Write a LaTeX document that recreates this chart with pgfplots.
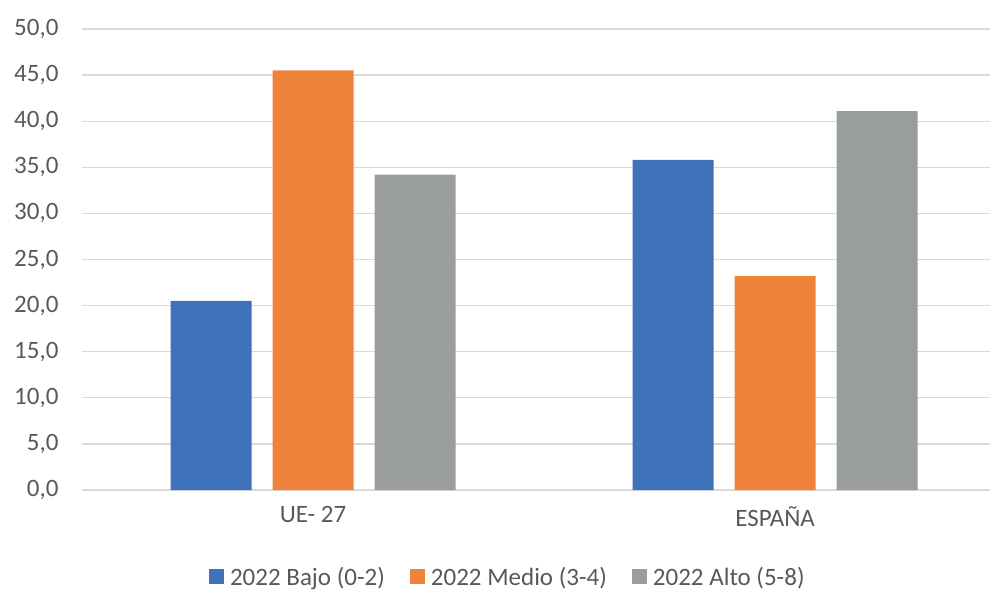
\documentclass[border=0pt]{standalone}
\usepackage{fontspec}
\setmainfont{Carlito}
\usepackage{pgfplots}
\pgfplotsset{compat=1.18}
\definecolor{cblue}{HTML}{3F72B9}
\definecolor{corange}{HTML}{F0833A}
\definecolor{cgray}{HTML}{9A9D9D}
\definecolor{cgrid}{HTML}{D9D9D9}
\definecolor{ctext}{HTML}{595959}
\begin{document}
\begin{tikzpicture}[x=1pt,y=1pt]
\useasboundingbox (0,0) rectangle (990,592);
\begin{axis}[
  at={(82pt,102pt)}, anchor=south west,
  scale only axis, width=908pt, height=461pt,
  xmin=-0.5, xmax=1.465, ymin=0, ymax=50,
  ybar=21pt, bar width=81pt,
  xtick={0,1}, xticklabels={UE- 27, ESPAÑA},
  ytick={0,5,...,50},
  ymajorgrids, grid style={color=cgrid, line width=1.2pt},
  axis lines*=left,
  y axis line style={draw=none},
  x axis line style={color=cgrid, line width=1.2pt},
  major tick length=0pt,
  tick style={draw=none},
  font=\fontsize{25}{30}\selectfont,
  tick label style={color=ctext, font=\fontsize{25}{30}\selectfont},
  yticklabel style={xshift=-20pt},
  xticklabel style={yshift=-13pt},
  /pgf/number format/.cd, fixed, fixed zerofill, precision=1, use comma, assume math mode=true,
  /pgfplots/.cd,
  legend columns=3,
  legend style={draw=none, at={(axis description cs:0.469,-0.19)}, anchor=center,
    font=\fontsize{25}{30}\selectfont, text=ctext,
    /tikz/every even column/.append style={column sep=23pt}},
  legend image code/.code={\fill[#1] (0pt,-6.5pt) rectangle (15pt,8.5pt); \path (19pt,0pt);},
]
\addplot[fill=cblue, draw=none] coordinates {(0,20.5) (1,35.8)};
\addplot[fill=corange, draw=none] coordinates {(0,45.5) (1,23.2)};
\addplot[fill=cgray, draw=none] coordinates {(0,34.2) (1,41.1)};
\legend{2022 Bajo (0-2), 2022 Medio (3-4), 2022 Alto (5-8)}
\end{axis}
\end{tikzpicture}
\end{document}
